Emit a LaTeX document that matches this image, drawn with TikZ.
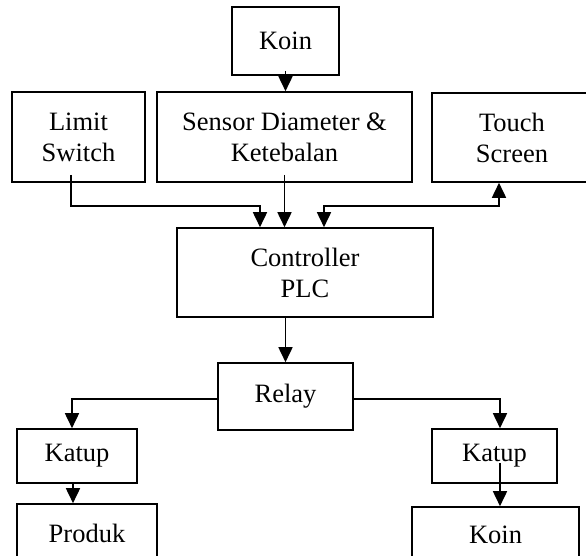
\documentclass[tikz,border=0pt]{standalone}
\usepackage{fontspec}
\setmainfont{Liberation Serif}
\usetikzlibrary{arrows.meta,calc}
\begin{document}
\begin{tikzpicture}[x=1pt,y=-1pt,
  box/.style={draw,line width=1.6pt,inner sep=0pt,align=center,font=\fontsize{26.5}{31}\selectfont},
  tip/.tip={Triangle[length=15pt,width=14pt]},
  arr/.style={line width=1.7pt,-tip},
  darr/.style={line width=1.7pt,tip-tip}]
\useasboundingbox (0,0) rectangle (586,556);
\clip (0,0) rectangle (586,556);
\fill[white] (0,0) rectangle (586,556);
\coordinate (bus) at (0,206);
\node[box,minimum width=107pt,minimum height=68pt] (koin) at (285.5,41) {Koin};
\node[box,minimum width=133pt,minimum height=90pt] (limit) at (78.5,137) {Limit\\Switch};
\node[box,minimum width=255pt,minimum height=90pt] (sensor) at (284.5,137) {Sensor Diameter \&\\Ketebalan};
\node[box,minimum width=160pt,minimum height=89pt] (touch) at (512,137.5) {Touch\\Screen};
\node[box,minimum width=256pt,minimum height=89pt] (ctrl) at (305,272.5) {Controller\\PLC};
\node[box,minimum width=135pt,minimum height=67pt] (relay) at (285.5,396.5) {Relay};
\node[box,minimum width=120pt,minimum height=54pt] (katupL) at (77,456) {Katup};
\node[box,minimum width=125pt,minimum height=54pt] (katupR) at (494.5,456) {Katup};
\node[box,minimum width=140pt,minimum height=58pt] (produk) at (87,533) {Produk};
\node[box,minimum width=167pt,minimum height=56pt] (koinB) at (495.5,535) {Koin};
% connectors
\draw[arr] ([yshift=5pt]koin.south) -- (koin.south |- sensor.north);
\draw[arr] ([xshift=-7.5pt,yshift=8pt]limit.south) -- ([xshift=-7.5pt]limit.south |- bus)
  -| ([xshift=-45pt]ctrl.north);
\draw[arr] ([yshift=8pt]sensor.south) -- (sensor.south |- ctrl.north);
\draw[darr] ([xshift=19pt]ctrl.north) -- ([xshift=19pt]ctrl.north |- bus)
  -| ([xshift=-13pt]touch.south);
\draw[arr] (relay.north |- ctrl.south) -- (relay.north);
\draw[arr] ([yshift=-2.5pt]relay.west) -| ([xshift=-5pt]katupL.north);
\draw[arr] ([yshift=-2.5pt]relay.east) -| ([xshift=5.5pt]katupR.north);
\draw[arr] ([xshift=-4pt]katupL.south) -- ([xshift=-4pt]katupL.south |- produk.north);
\draw[arr] ([xshift=5.5pt,yshift=21pt]katupR.south) -- ([xshift=5.5pt]katupR.south |- koinB.north);
\end{tikzpicture}
\end{document}
